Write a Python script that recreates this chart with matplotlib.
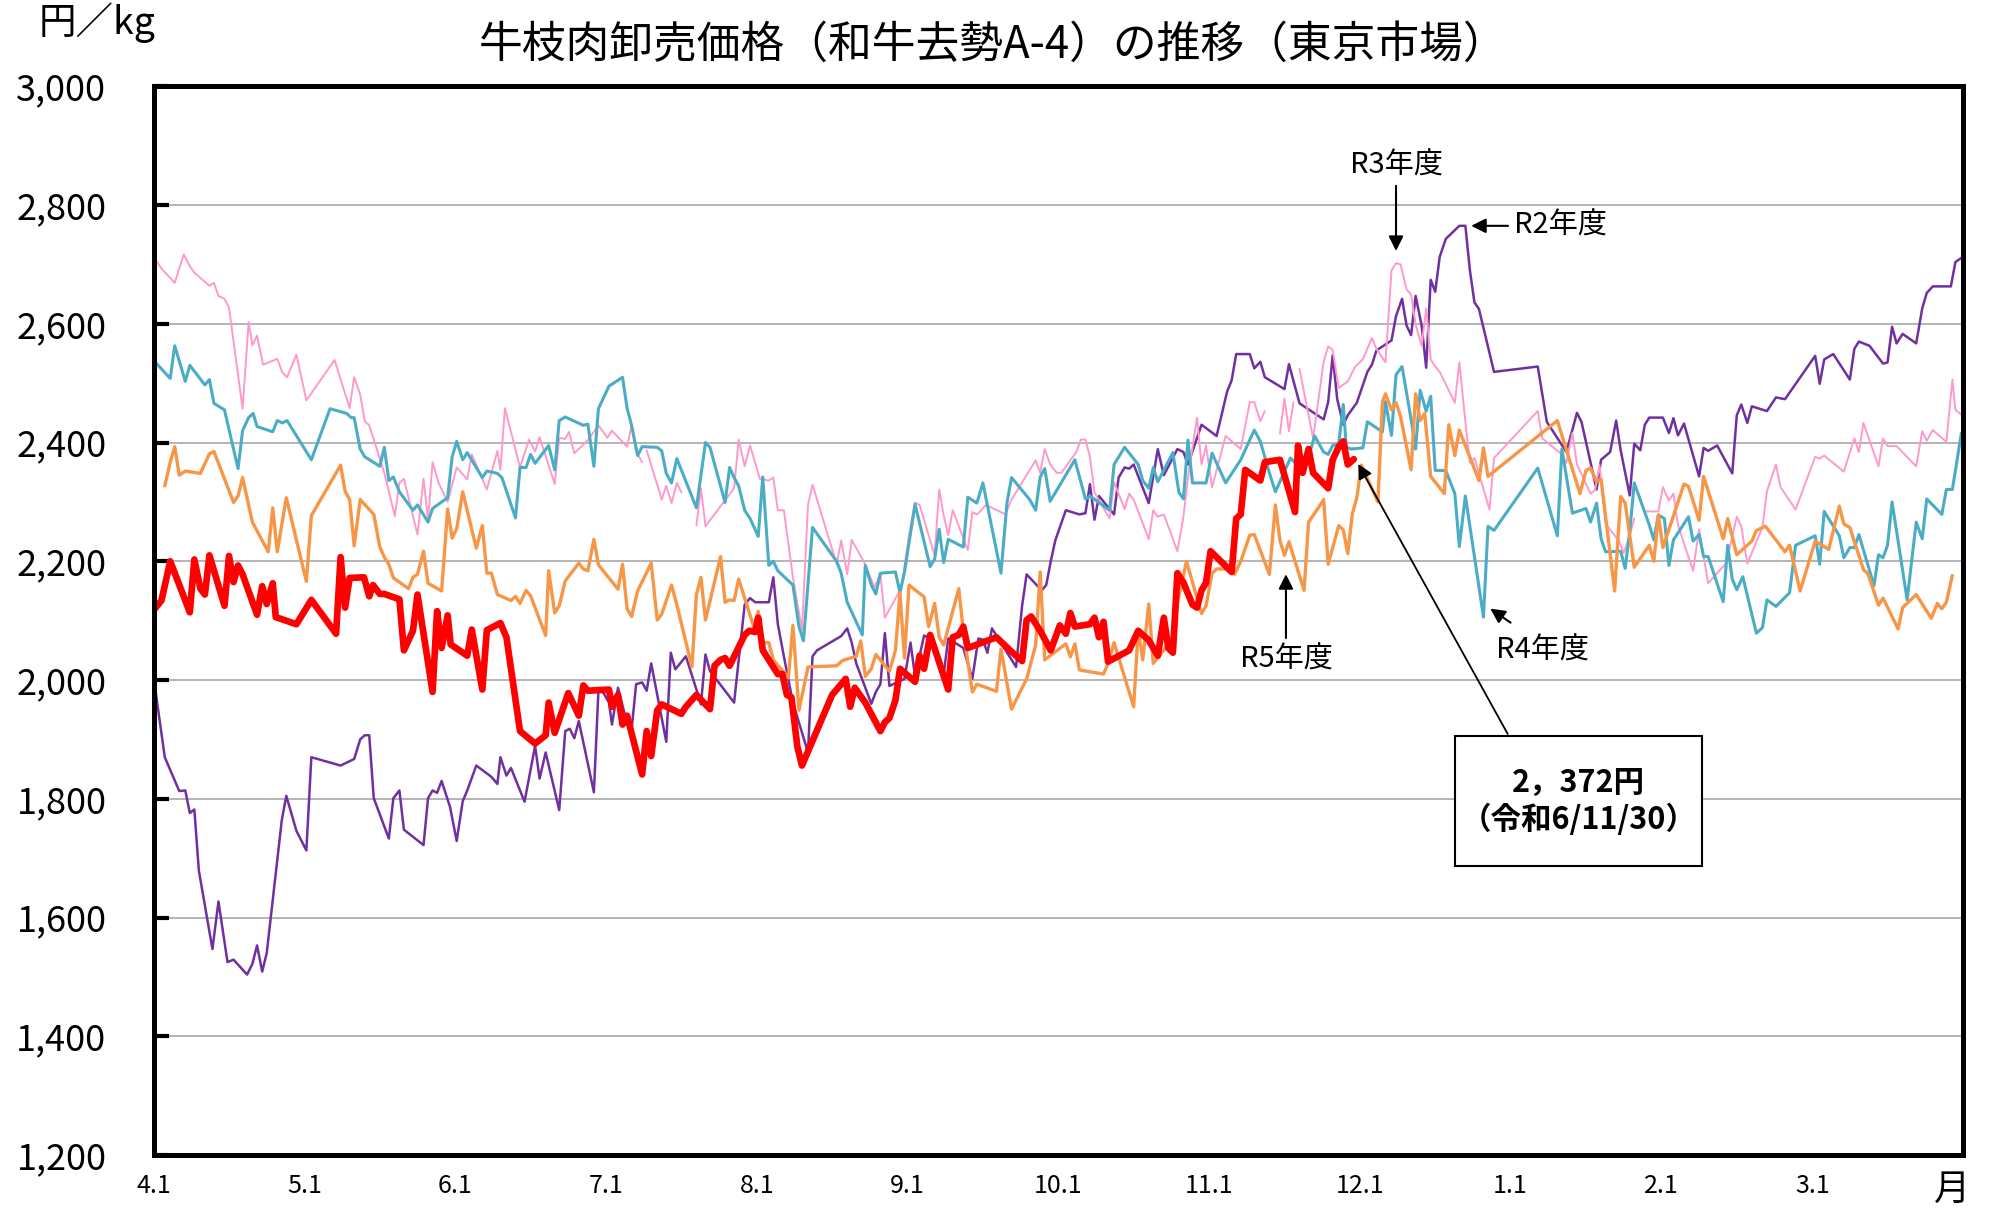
import numpy as np
import matplotlib
matplotlib.use("Agg")
import matplotlib.pyplot as plt
import matplotlib.ticker as mticker
from matplotlib.patches import Rectangle

plt.rcParams["font.family"] = ["Noto Sans CJK JP", "DejaVu Sans"]

nan = np.nan

# x = months since 4/1 (fiscal year position), y = yen per kg
r2_x = [0.008, 0.074, 0.17, 0.21, 0.24, 0.27, 0.30, 0.39, 0.43, 0.49, 0.53, 0.62, 0.655, 0.686, 0.72, 0.75,
        0.85, 0.88, 0.947, 1.013, 1.046, 1.24, 1.33, 1.37, 1.40, 1.43, 1.46, 1.56, 1.59, 1.63, 1.66, 1.79,
        1.82, 1.85, 1.88, 1.91, 1.966, 2.01, 2.05, 2.08, 2.14, 2.24, 2.28, 2.30, 2.34, 2.37, 2.46, 2.53,
        2.56, 2.60, 2.69, 2.73, 2.76, 2.79, 2.82, 2.92, 2.95, 2.98, 3.02, 3.04, 3.08, 3.14, 3.17, 3.20,
        3.24, 3.27, 3.30, 3.40, 3.43, 3.46, 3.53, 3.60, 3.63, 3.66, 3.69, 3.85, 3.92, 3.956, 3.99, 4.08,
        4.11, 4.14, 4.18, 4.24, 4.34, 4.37, 4.40, 4.56, 4.60, 4.63, 4.66, 4.76, 4.79, 4.82, 4.85, 4.88,
        4.98, 5.02, 5.05, 5.11, 5.15, 5.24, 5.27, 5.37, 5.40, 5.43, 5.47, 5.50, 5.53, 5.56, 5.72, 5.76,
        5.79, 5.89, 5.92, 5.95, 5.98, 6.05, 6.14, 6.18, 6.21, 6.24, 6.27, 6.34, 6.37, 6.40, 6.44, 6.47,
        6.50, 6.60, 6.66, 6.70, 6.79, 6.83, 6.86, 6.95, 7.05, 7.12, 7.15, 7.18, 7.27, 7.30, 7.34, 7.37,
        7.50, 7.53, 7.60, 7.76, 7.79, 7.82, 7.85, 7.89, 7.92, 7.98, 8.05, 8.08, 8.11, 8.21, 8.24, 8.28,
        8.31, 8.34, 8.37, 8.41, 8.44, 8.47, 8.50, 8.53, 8.57, 8.66, 8.70, 8.73, 8.76, 8.79, 8.89, 9.18,
        9.24, 9.37, 9.44, 9.47, 9.57, 9.60, 9.66, 9.70, 9.73, 9.79, 9.82, 9.86, 9.89, 9.92, 10.01, 10.05,
        10.08, 10.11, 10.15, 10.25, 10.28, 10.31, 10.37, 10.47, 10.50, 10.53, 10.57, 10.60, 10.70, 10.76,
        10.82, 11.02, 11.05, 11.08, 11.14, 11.25, 11.28, 11.31, 11.38, 11.47, 11.50, 11.53, 11.56, 11.60,
        11.69, 11.73, 11.76, 11.80, 11.92, 11.95, 11.99]
r2_y = [1990, 1870, 1813, 1814, 1776, 1782, 1679, 1547, 1627, 1525, 1529, 1504, 1522, 1553, 1509, 1540,
        1764, 1805, 1746, 1713, 1870, 1856, 1867, 1900, 1907, 1907, 1801, 1733, 1801, 1814, 1748, 1722,
        1801, 1814, 1810, 1830, 1786, 1729, 1796, 1814, 1856, 1837, 1825, 1870, 1839, 1852, 1795, 1889,
        1834, 1878, 1781, 1914, 1918, 1902, 1931, 1811, 1982, 1980, 1962, 1925, 1987, 1927, 1916, 1993,
        1996, 1982, 2028, 1896, 2046, 2018, 2040, 1984, 1959, 2043, 2015, 1962, 2127, 2138, 2131, 2131,
        2173, 2094, 2040, 1962, 1878, 2040, 2050, 2074, 2087, 2063, 2028, 1960, 1980, 1993, 2079, 1990,
        2002, 2063, 2006, 2075, 2070, 2010, 2070, 2054, 2028, 2002, 2070, 2068, 2046, 2087, 2022, 2125,
        2178, 2151, 2160, 2200, 2235, 2286, 2279, 2281, 2330, 2270, 2310, 2288, 2279, 2341, 2358, 2356,
        2363, 2298, 2389, 2345, 2389, 2384, 2363, 2430, 2411, 2486, 2505, 2549, 2549, 2525, 2536, 2510,
        2490, 2532, 2466, 2439, 2468, 2547, 2473, 2430, 2446, 2467, 2519, 2531, 2555, 2572, 2613, 2642,
        2597, 2581, 2647, 2597, 2526, 2674, 2654, 2713, 2743, 2765, 2765, 2690, 2636, 2625, 2519, 2528,
        2435, 2384, 2450, 2435, 2321, 2371, 2384, 2437, 2387, 2311, 2398, 2387, 2430, 2442, 2442, 2416,
        2441, 2412, 2432, 2343, 2391, 2386, 2395, 2348, 2446, 2464, 2433, 2461, 2453, 2476,
        2473, 2546, 2499, 2540, 2549, 2506, 2558, 2570, 2563, 2533, 2535, 2595, 2567, 2583,
        2567, 2626, 2652, 2663, 2663, 2704, 2711]

r3_x = [0.008, 0.052, 0.14, 0.20, 0.24, 0.27, 0.37, 0.40, 0.43, 0.47, 0.50, 0.59, 0.63, 0.655, 0.686, 0.726,
        0.82, 0.854, 0.885, 0.947, 1.013, 1.20, 1.30, 1.33, 1.37, 1.40, 1.43, 1.53, 1.60, 1.63, 1.66, 1.75,
        1.79, 1.82, 1.85, 1.89, 1.95, 2.01, 2.08, 2.11, 2.21, 2.28, 2.30, 2.33, 2.43, 2.49, 2.53, 2.56,
        2.66, 2.69, 2.73, 2.755, 2.79, 2.88, 2.95, 3.01, 3.04, 3.14, 3.17, 3.20, 3.24, 3.255, 3.27, 3.37,
        3.40, 3.435, 3.47, 3.50, 3.55, 3.60, 3.63, 3.66, 3.85, 3.88, 3.92, 3.956, 4.02, 4.08, 4.11, 4.14,
        4.18, 4.24, 4.30, 4.34, 4.37, 4.53, 4.56, 4.60, 4.63, 4.72, 4.78, 4.82, 4.85, 4.95, 4.97, 5.01,
        5.05, 5.08, 5.18, 5.21, 5.24, 5.27, 5.30, 5.40, 5.43, 5.46, 5.49, 5.52, 5.65, 5.69, 5.85, 5.88,
        5.91, 5.946, 5.99, 6.02, 6.12, 6.15, 6.18, 6.21, 6.24, 6.34, 6.37, 6.44, 6.47, 6.50, 6.60, 6.63,
        6.66, 6.70, 6.79, 6.83, 6.86, 6.92, 6.95, 6.98, 7.02, 7.11, 7.21, 7.27, 7.30, 7.34, 7.37, 7.42,
        7.47, 7.50, 7.53, 7.56, 7.58, 7.60, 7.69, 7.76, 7.79, 7.82, 7.86, 7.92, 7.97, 8.02, 8.08, 8.11,
        8.17, 8.21, 8.24, 8.27, 8.31, 8.34, 8.37, 8.41, 8.44, 8.47, 8.50, 8.53, 8.63, 8.66, 8.70, 8.73,
        8.76, 8.86, 8.89, 9.18, 9.21, 9.34, 9.37, 9.41, 9.44, 9.53, 9.56, 9.59, 9.63, 9.72, 9.75, 9.79,
        9.82, 9.86, 9.90, 9.98, 10.01, 10.05, 10.08, 10.11, 10.21, 10.25, 10.31, 10.43, 10.50, 10.53,
        10.57, 10.67, 10.70, 10.76, 10.79, 10.89, 11.02, 11.05, 11.08, 11.21, 11.28, 11.31, 11.34, 11.44,
        11.47, 11.50, 11.56, 11.69, 11.73, 11.76, 11.80, 11.89, 11.93, 11.95, 11.99]
r3_y = [2710, 2693, 2669, 2717, 2697, 2686, 2664, 2669, 2647, 2642, 2627, 2457, 2603, 2564, 2580, 2531,
        2541, 2518, 2510, 2548, 2471, 2539, 2458, 2510, 2481, 2436, 2429, 2349, 2276, 2332, 2339, 2245,
        2339, 2270, 2367, 2332, 2300, 2358, 2338, 2380, 2321, 2386, 2354, 2458, 2358, 2405, 2385, 2409,
        2330, 2408, 2406, 2418, 2382, 2404, 2429, 2408, 2420, 2393, 2429, 2385, 2367, nan, 2387, 2304,
        2327, 2298, 2332, 2316, nan, 2260, 2323, 2259, 2323, 2405, 2360, 2395, 2339, 2336, 2341, 2286,
        2286, 2173, 2084, 2295, 2329, 2195, 2235, 2178, 2236, 2195, 2156, 2178, 2105, 2151, 2173, 2244,
        2299, 2295, 2210, 2321, 2277, 2244, 2286, 2219, 2283, 2279, 2286, 2295, 2279, 2304, 2370, 2349,
        2389, 2363, 2349, 2349, 2384, 2405, 2405, 2376, 2316, 2272, 2333, 2288, 2314, 2304, 2237, 2286,
        2275, 2279, 2217, 2275, 2341, 2442, 2363, 2395, 2325, 2411, 2389, 2468, 2468, 2436, 2453, nan,
        2415, 2474, 2419, 2468, nan, 2524, 2407, 2536, 2562, 2556, 2492, 2503, 2528, 2540, 2576, 2558,
        2535, 2690, 2702, 2700, 2658, 2649, 2599, 2563, 2626, 2540, 2528, 2519, 2467, 2535, 2435, 2366,
        2374, 2287, 2374, 2453, 2407, 2380, 2366, 2416, 2363, 2314, 2320, 2362, 2263, 2234, 2214, 2243,
        2272, nan, 2284, 2284, 2325, 2302, 2314, 2261, 2184, 2254, 2163, 2197, 2275, 2259,
        2196, 2257, 2318, 2363, 2325, 2287, 2376, 2373, 2378, 2351, 2407, 2384, 2433, 2360,
        2407, 2394, 2394, 2360, 2419, 2403, 2421, 2401, 2506, 2455, 2447]

r4_x = [0.008, 0.11, 0.14, 0.21, 0.24, 0.34, 0.37, 0.40, 0.47, 0.56, 0.59, 0.63, 0.66, 0.686, 0.79, 0.82,
        0.854, 0.885, 1.046, 1.17, 1.28, 1.31, 1.33, 1.37, 1.40, 1.50, 1.53, 1.56, 1.59, 1.63, 1.72, 1.75,
        1.82, 1.85, 1.95, 1.98, 2.01, 2.05, 2.08, 2.18, 2.21, 2.28, 2.31, 2.40, 2.43, 2.47, 2.50, 2.53,
        2.62, 2.66, 2.69, 2.73, 2.85, 2.88, 2.92, 2.95, 3.02, 3.11, 3.14, 3.17, 3.21, 3.24, 3.34, 3.37,
        3.40, 3.435, 3.47, 3.60, 3.66, 3.69, 3.79, 3.82, 3.85, 3.88, 3.92, 3.956, 4.01, 4.04, 4.08, 4.11,
        4.14, 4.24, 4.28, 4.31, 4.37, 4.53, 4.56, 4.60, 4.70, 4.72, 4.76, 4.79, 4.82, 4.92, 4.95, 4.98,
        5.05, 5.15, 5.18, 5.21, 5.24, 5.27, 5.37, 5.40, 5.46, 5.50, 5.62, 5.66, 5.69, 5.81, 5.85, 5.88,
        5.91, 5.946, 6.11, 6.18, 6.21, 6.34, 6.37, 6.44, 6.53, 6.56, 6.60, 6.63, 6.66, 6.76, 6.80, 6.83,
        6.86, 6.89, 6.98, 7.02, 7.11, 7.21, 7.30, 7.34, 7.40, 7.44, 7.54, 7.63, 7.70, 7.76, 7.79, 7.82,
        7.86, 7.89, 7.91, 7.94, 8.02, 8.05, 8.15, 8.17, 8.21, 8.24, 8.28, 8.34, 8.37, 8.40, 8.44, 8.47,
        8.50, 8.57, 8.63, 8.66, 8.70, 8.82, 8.85, 8.89, 9.18, 9.31, 9.34, 9.41, 9.50, 9.53, 9.57, 9.60,
        9.63, 9.73, 9.76, 9.79, 9.82, 9.92, 9.95, 9.98, 10.02, 10.05, 10.08, 10.18, 10.21, 10.25, 10.28,
        10.31, 10.41, 10.44, 10.47, 10.50, 10.54, 10.63, 10.67, 10.70, 10.76, 10.85, 10.89, 11.02, 11.05,
        11.08, 11.18, 11.21, 11.25, 11.28, 11.31, 11.41, 11.44, 11.47, 11.50, 11.53, 11.63, 11.69, 11.73,
        11.76, 11.86, 11.89, 11.93, 11.99]
r4_y = [2536, 2508, 2563, 2503, 2530, 2497, 2506, 2466, 2455, 2356, 2420, 2442, 2449, 2427, 2418, 2437,
        2433, 2437, 2371, 2457, 2449, 2442, 2442, 2389, 2376, 2360, 2392, 2336, 2342, 2317, 2286, 2295,
        2266, 2289, 2307, 2376, 2402, 2371, 2383, 2341, 2352, 2348, 2341, 2273, 2358, 2358, 2380, 2365,
        2395, 2354, 2437, 2443, 2429, 2431, 2360, 2457, 2495, 2510, 2458, 2429, 2378, 2393, 2392, 2386,
        2348, 2332, 2373, 2290, 2400, 2392, 2299, 2358, 2341, 2327, 2286, 2272, 2242, 2342, 2193, 2200,
        2184, 2160, 2090, 2066, 2257, 2200, 2180, 2131, 2076, 2193, 2160, 2145, 2180, 2182, 2147, 2182,
        2296, 2191, 2204, 2254, 2198, 2237, 2224, 2308, 2298, 2332, 2180, 2299, 2341, 2304, 2286, 2342,
        2356, 2301, 2371, 2305, 2310, 2286, 2363, 2392, 2363, 2336, 2323, 2358, 2334, 2383, 2316, 2305,
        2404, 2332, 2332, 2382, 2332, 2371, 2421, 2402, 2349, 2317, 2374, 2349, 2411, 2384, 2380, 2395,
        2398, 2464, 2393, 2389, 2391, 2435, 2418, 2469, 2412, 2514, 2528, 2439, 2389, 2488, 2453, 2478,
        2353, 2353, 2314, 2225, 2310, 2106, 2259, 2252, 2357, 2243, 2389, 2281, 2289, 2266, 2298, 2238,
        2216, 2217, 2188, 2250, 2332, 2261, 2236, 2278, 2272, 2193, 2236, 2275, 2234, 2245, 2208,
        2208, 2132, 2227, 2170, 2152, 2174, 2079, 2088, 2135, 2124, 2147, 2227, 2243, 2195,
        2284, 2243, 2206, 2223, 2223, 2245, 2159, 2211, 2206, 2227, 2300, 2135, 2266, 2238,
        2305, 2279, 2321, 2321, 2416]

r5_x = [0.074, 0.11, 0.14, 0.17, 0.21, 0.31, 0.37, 0.40, 0.53, 0.56, 0.59, 0.655, 0.76, 0.79, 0.82, 0.88,
        1.013, 1.046, 1.24, 1.27, 1.30, 1.33, 1.37, 1.46, 1.50, 1.53, 1.56, 1.59, 1.69, 1.72, 1.75, 1.79,
        1.82, 1.91, 1.95, 1.98, 2.01, 2.05, 2.14, 2.18, 2.21, 2.24, 2.28, 2.37, 2.40, 2.43, 2.47, 2.50,
        2.60, 2.62, 2.66, 2.69, 2.73, 2.82, 2.85, 2.88, 2.92, 2.95, 3.08, 3.11, 3.14, 3.17, 3.21, 3.30,
        3.34, 3.37, 3.435, 3.47, 3.57, 3.60, 3.63, 3.66, 3.76, 3.79, 3.82, 3.85, 3.88, 3.98, 4.01, 4.04,
        4.08, 4.11, 4.21, 4.24, 4.28, 4.34, 4.53, 4.57, 4.66, 4.69, 4.72, 4.76, 4.79, 4.88, 4.92, 4.95,
        4.98, 5.01, 5.11, 5.14, 5.18, 5.21, 5.24, 5.34, 5.37, 5.43, 5.46, 5.59, 5.62, 5.69, 5.79, 5.85,
        5.88, 5.91, 5.946, 6.05, 6.08, 6.11, 6.14, 6.30, 6.34, 6.37, 6.50, 6.53, 6.56, 6.60, 6.63, 6.70,
        6.73, 6.76, 6.79, 6.85, 6.95, 6.98, 7.02, 7.05, 7.14, 7.17, 7.21, 7.27, 7.30, 7.40, 7.44, 7.47,
        7.50, 7.53, 7.63, 7.66, 7.73, 7.76, 7.79, 7.86, 7.89, 7.92, 7.95, 7.98, 8.01, 8.12, 8.15, 8.17,
        8.21, 8.24, 8.27, 8.34, 8.37, 8.40, 8.43, 8.47, 8.56, 8.59, 8.63, 8.66, 8.79, 8.82, 8.85, 9.31,
        9.46, 9.50, 9.53, 9.57, 9.60, 9.69, 9.73, 9.76, 9.82, 9.92, 9.95, 9.98, 10.01, 10.15, 10.18,
        10.25, 10.28, 10.41, 10.44, 10.50, 10.60, 10.63, 10.69, 10.82, 10.85, 10.92, 11.02, 11.11,
        11.18, 11.21, 11.25, 11.34, 11.37, 11.44, 11.47, 11.57, 11.60, 11.69, 11.79, 11.83, 11.86,
        11.89, 11.93]
r5_y = [2327, 2367, 2393, 2345, 2352, 2348, 2381, 2385, 2299, 2310, 2341, 2266, 2216, 2290, 2216, 2307,
        2166, 2277, 2362, 2318, 2304, 2226, 2304, 2279, 2224, 2207, 2195, 2172, 2154, 2173, 2178, 2217,
        2163, 2150, 2288, 2239, 2255, 2317, 2222, 2260, 2180, 2180, 2144, 2134, 2141, 2129, 2151, 2142,
        2075, 2184, 2113, 2125, 2167, 2197, 2187, 2184, 2237, 2194, 2153, 2195, 2120, 2107, 2150, 2197,
        2101, 2111, 2160, 2127, 2022, 2144, 2173, 2101, 2208, 2131, 2135, 2134, 2170, 2090, 2116, 2063,
        2063, 2034, 2004, 2092, 1949, 2022, 2024, 2033, 2040, 2066, 2006, 2019, 2043, 2015, 2050, 2147,
        2037, 2160, 2140, 2090, 2129, 2072, 2059, 2154, 2083, 1980, 1993, 1981, 2052, 1951, 2002, 2059,
        2182, 2034, 2041, 2061, 2039, 2061, 2017, 2010, 2034, 2063, 1955, 2085, 2034, 2128, 2028, 2050,
        2063, 2050, 2129, 2200, 2112, 2125, 2180, 2187, 2187, 2178, 2200, 2244, 2245, 2178, 2295, 2235,
        2210, 2233, 2151, 2266, 2292, 2304, 2195, 2260, 2253, 2213, 2280, 2307, 2362, 2300, 2469, 2482,
        2455, 2467, 2444, 2354, 2482, 2437, 2449, 2343, 2314, 2430, 2378, 2421, 2336, 2391, 2343, 2437,
        2314, 2353, 2357, 2334, 2338, 2150, 2309, 2298, 2190, 2227, 2200, 2278, 2223, 2330, 2326,
        2269, 2343, 2238, 2272, 2211, 2234, 2252, 2259, 2216, 2227, 2150, 2234, 2220,
        2293, 2263, 2257, 2186, 2179, 2126, 2138, 2086, 2122, 2144, 2104, 2129, 2120,
        2131, 2176]

r6_x = [0.008, 0.052, 0.11, 0.24, 0.27, 0.31, 0.34, 0.37, 0.47, 0.50, 0.53, 0.56, 0.59, 0.686, 0.72, 0.75,
        0.79, 0.81, 0.947, 1.046, 1.21, 1.24, 1.27, 1.30, 1.395, 1.43, 1.455, 1.50, 1.53, 1.63, 1.66, 1.72,
        1.75, 1.85, 1.88, 1.91, 1.95, 1.97, 2.08, 2.11, 2.18, 2.21, 2.30, 2.34, 2.43, 2.53, 2.60, 2.62,
        2.66, 2.75, 2.82, 2.85, 2.88, 3.02, 3.04, 3.08, 3.11, 3.14, 3.24, 3.27, 3.30, 3.34, 3.37, 3.50,
        3.53, 3.60, 3.69, 3.72, 3.76, 3.79, 3.82, 3.92, 3.95, 3.99, 4.01, 4.04, 4.14, 4.17, 4.20, 4.23,
        4.27, 4.30, 4.50, 4.59, 4.62, 4.65, 4.72, 4.82, 4.85, 4.88, 4.92, 4.95, 5.05, 5.08, 5.11, 5.15,
        5.27, 5.30, 5.34, 5.37, 5.40, 5.59, 5.68, 5.76, 5.79, 5.82, 5.88, 5.95, 6.01, 6.05, 6.08, 6.11,
        6.21, 6.24, 6.27, 6.30, 6.33, 6.47, 6.53, 6.60, 6.66, 6.70, 6.73, 6.76, 6.79, 6.83, 6.89, 6.92,
        6.95, 6.98, 7.01, 7.15, 7.18, 7.21, 7.24, 7.34, 7.37, 7.47, 7.57, 7.59, 7.62, 7.66, 7.69, 7.79,
        7.82, 7.86, 7.89, 7.92, 7.96]
r6_y = [2120, 2134, 2200, 2114, 2203, 2154, 2144, 2210, 2125, 2209, 2165, 2193, 2178, 2110, 2158, 2128,
        2163, 2106, 2094, 2135, 2078, 2207, 2122, 2172, 2173, 2141, 2160, 2145, 2145, 2136, 2050, 2083,
        2144, 1980, 2116, 2054, 2109, 2060, 2041, 2085, 1984, 2084, 2096, 2072, 1914, 1893, 1907, 1962,
        1911, 1978, 1940, 1991, 1982, 1984, 1955, 1975, 1925, 1940, 1841, 1914, 1872, 1949, 1959, 1943,
        1955, 1975, 1951, 2024, 2034, 2037, 2024, 2076, 2083, 2081, 2105, 2050, 2010, 2010, 1975, 1971,
        1887, 1856, 1975, 2002, 1955, 1987, 1962, 1914, 1929, 1936, 1966, 2019, 1997, 2041, 2019, 2076,
        1984, 2072, 2076, 2090, 2054, 2072, 2050, 2032, 2101, 2107, 2083, 2050, 2092, 2078, 2113, 2090,
        2094, 2105, 2072, 2098, 2031, 2050, 2083, 2067, 2041, 2105, 2054, 2046, 2180, 2164, 2127, 2122,
        2151, 2164, 2217, 2182, 2272, 2279, 2354, 2336, 2367, 2371, 2283, 2395, 2349, 2389, 2349, 2323,
        2371, 2393, 2402, 2363, 2372]

month_labels = ["4.1", "5.1", "6.1", "7.1", "8.1", "9.1", "10.1", "11.1", "12.1", "1.1", "2.1", "3.1"]

series = [
    (r2_x, r2_y, "#7030A0", 1.8),
    (r3_x, r3_y, "#FF99CC", 1.4),
    (r4_x, r4_y, "#4BACC6", 2.2),
    (r5_x, r5_y, "#F79646", 2.4),
    (r6_x, r6_y, "#FF0000", 4.8),
]

fig = plt.figure(figsize=(19.9, 12.12), dpi=100)
ax = fig.add_axes([0.0772, 0.047, 0.9092, 0.8818])

for x, y, c, lw in series:
    ax.plot(x, y, color=c, linewidth=lw, solid_joinstyle="round", solid_capstyle="round")

ax.set_xlim(0, 12)
ax.set_ylim(1200, 3000)
ax.set_yticks(np.arange(1200, 3001, 200))
ax.yaxis.set_major_formatter(mticker.FuncFormatter(lambda v, _: f"{v:,.0f}"))
ax.set_xticks(range(12))
ax.set_xticklabels(month_labels)
ax.grid(True, axis="y", color="#b4b4b4", linewidth=1.4)
ax.set_axisbelow(True)
for s in ax.spines.values():
    s.set_linewidth(3.6)
    s.set_color("black")
ax.tick_params(axis="y", direction="in", length=11, width=3, labelsize=26, pad=34)
ax.tick_params(axis="x", length=0, labelsize=18, pad=13)

fig.text(0.499, 0.963, "牛枝肉卸売価格（和牛去勢A-4）の推移（東京市場）", ha="center", va="center", fontsize=31.5)
fig.text(0.0195, 0.981, "円／kg", ha="left", va="center", fontsize=27)
fig.text(0.981, 0.018, "月", ha="center", va="center", fontsize=26)

arrow = dict(arrowstyle="-|>", color="black", lw=1.5, mutation_scale=22)
ax.annotate("R3年度", xy=(8.24, 2718), xytext=(8.24, 2867), ha="center", va="center",
            fontsize=21, arrowprops=arrow)
ax.annotate("R2年度", xy=(8.72, 2765), xytext=(9.02, 2765), ha="left", va="center",
            fontsize=21, arrowprops=arrow)
ax.text(9.21, 2049, "R4年度", ha="center", va="center", fontsize=21)
ax.annotate("", xy=(8.85, 2123), xytext=(9.015, 2094), arrowprops=arrow)
ax.text(7.51, 2034, "R5年度", ha="center", va="center", fontsize=21)
ax.annotate("", xy=(7.51, 2183), xytext=(7.51, 2066), arrowprops=arrow)

ax.add_patch(Rectangle((8.63, 1687), 1.64, 218, facecolor="white", edgecolor="black", linewidth=1.5, zorder=5))
ax.text(9.45, 1826, "2，372円", ha="center", va="center", fontsize=22, fontweight="bold", zorder=6)
ax.text(9.45, 1765, "（令和6/11/30）", ha="center", va="center", fontsize=22, fontweight="bold", zorder=6)
ax.annotate("", xy=(7.98, 2368), xytext=(8.99, 1905), arrowprops=dict(arrowstyle="-|>", color="black",
            lw=1.3, mutation_scale=22), zorder=6)

fig.savefig("out.png", dpi=100)
